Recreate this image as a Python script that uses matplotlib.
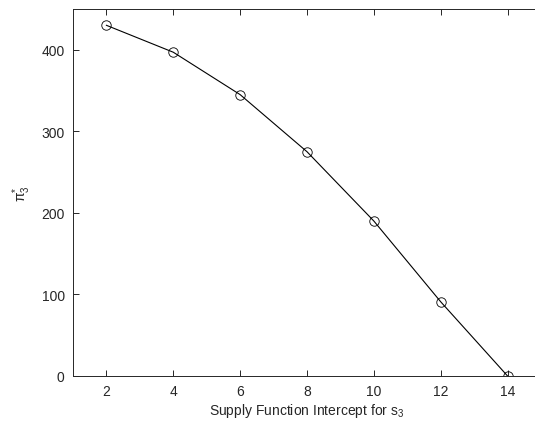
import matplotlib
matplotlib.use("Agg")
import matplotlib.pyplot as plt

x_vals = [2, 4, 6, 8, 10, 12, 14]
pi3_vals = [430, 397, 345, 275, 190, 91, 0]
x_ticks = [2, 4, 6, 8, 10, 12, 14]
y_ticks = [0, 100, 200, 300, 400]

plt.rcParams['font.family'] = ['Liberation Sans', 'DejaVu Sans']
plt.rcParams['mathtext.fontset'] = 'custom'
plt.rcParams['mathtext.rm'] = 'Liberation Sans'
plt.rcParams['mathtext.it'] = 'Liberation Sans:italic'

W, H = 535, 427
fig = plt.figure(figsize=(W/100, H/100), dpi=100)
left, right, top, bottom = 73, 541, 10, 377
ax = fig.add_axes([left/W, 1 - bottom/H, (right-left)/W, (bottom-top)/H])

gray = '#262626'
ax.plot(x_vals, pi3_vals, color='black', linewidth=0.8, marker='o', markersize=6.8,
        markerfacecolor='none', markeredgecolor='black', markeredgewidth=0.6)
ax.set_xlim(1, 15)
ax.set_ylim(0, 450)
ax.set_xticks(x_ticks)
ax.set_yticks(y_ticks)
ax.tick_params(direction='in', top=True, right=True, length=4, width=0.7,
               colors=gray, labelsize=10, pad=6)
for s in ax.spines.values():
    s.set_color(gray)
    s.set_linewidth(0.7)
ax.set_xlabel('Supply Function Intercept for s$_3$', fontsize=10, color=gray, labelpad=2)
ax.set_ylabel(r'$\mathrm{\pi}^{*}_{3}$', fontsize=10, color=gray, labelpad=6)
fig.savefig('out.png', dpi=100)
